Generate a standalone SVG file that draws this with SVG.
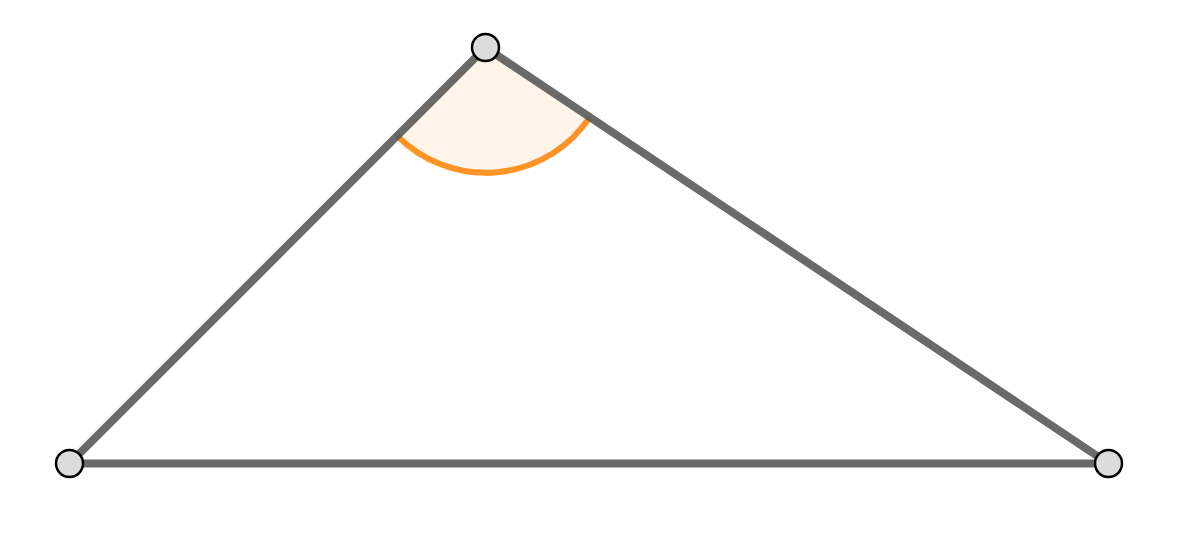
<svg xmlns="http://www.w3.org/2000/svg" width="1201" height="537" viewBox="0 0 1201 537">
<style>
.edge{stroke:#555555;stroke-opacity:0.88;stroke-width:8;stroke-linecap:round;fill:none}
.pt{fill:#dcdcdc;stroke:#000000;stroke-width:2.5}
.angfill{fill:#ff9326;fill-opacity:0.1;stroke:none}
.angarc{fill:none;stroke:#ff9326;stroke-width:6}
</style>
<rect width="1201" height="537" fill="#ffffff"/>
<g id="angle-A">
<path class="angfill" d="M485.5,47.5 L589.5,117.6 A125,125 0 0 1 397.2,135.8 Z"/>
<path class="angarc" d="M589.5,117.6 A125,125 0 0 1 397.2,135.8"/>
</g>
<g id="connectors">
<line class="edge" x1="485.5" y1="47.5" x2="69.5" y2="463.5"/>
<line class="edge" x1="485.5" y1="47.5" x2="1108.5" y2="463.5"/>
<line class="edge" x1="69.5" y1="463.5" x2="1108.5" y2="463.5"/>
</g>
<g id="A"><circle class="pt" cx="485.5" cy="47.5" r="13.5"/></g>
<g id="B"><circle class="pt" cx="69.5" cy="463.5" r="13.5"/></g>
<g id="C"><circle class="pt" cx="1108.5" cy="463.5" r="13.5"/></g>
</svg>
